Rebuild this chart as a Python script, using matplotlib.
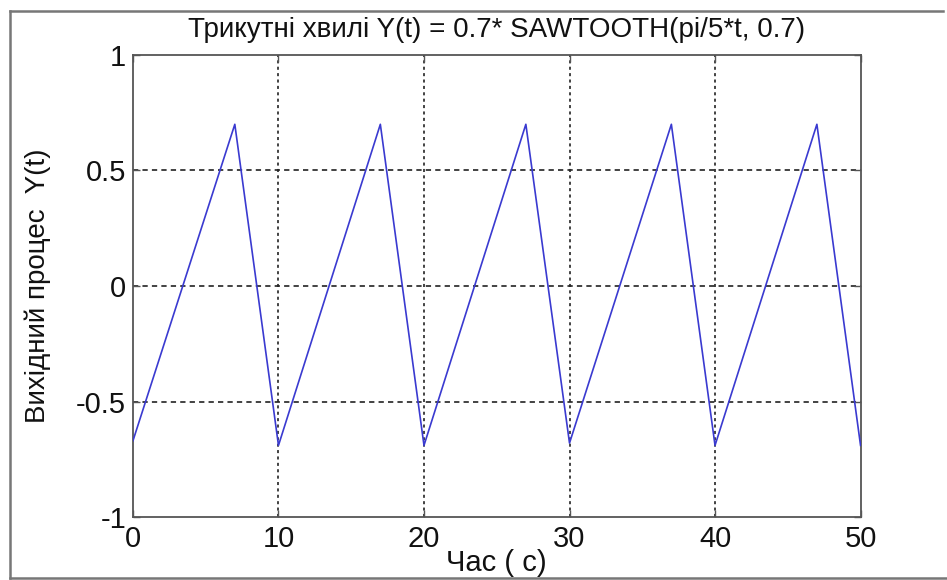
import matplotlib
matplotlib.use("Agg")
import matplotlib.pyplot as plt
from matplotlib.lines import Line2D

# Vertices of the triangular wave 0.7*sawtooth(pi/5*t, 0.7)
t_vals = [0, 7, 10, 17, 20, 27, 30, 37, 40, 47, 50]
y_vals = [-0.67, 0.70, -0.69, 0.70, -0.69, 0.70, -0.68, 0.70, -0.69, 0.70, -0.69]

x_ticks = [0, 10, 20, 30, 40, 50]
y_ticks = [-1, -0.5, 0, 0.5, 1]
y_tick_labels = ["-1", "-0.5", "0", "0.5", "1"]

title_text = "Трикутні хвилі Y(t) = 0.7* SAWTOOTH(pi/5*t, 0.7)"
x_label = "Час ( с)"
y_label = "Вихідний процес  Y(t)"

plt.rcParams["font.family"] = ["Liberation Sans", "DejaVu Sans"]
plt.rcParams["lines.scale_dashes"] = False

fig = plt.figure(figsize=(9.47, 5.8), dpi=100)
ax = fig.add_axes([0.1404, 0.1086, 0.9087 - 0.1404, 0.9052 - 0.1086])

ax.plot(t_vals, y_vals, color="#3a3ad0", linewidth=1.2, zorder=3)

ax.set_xlim(0, 50)
ax.set_ylim(-1, 1)
ax.set_xticks(x_ticks)
ax.set_yticks(y_ticks)
ax.set_yticklabels(y_tick_labels)

# dotted grid: short dashes on vertical lines, longer on horizontal ones
for xv in x_ticks[1:-1]:
    ax.axvline(xv, color="#222222", linewidth=1.2, dashes=(2.2, 2.4), zorder=1)
for yv in y_ticks[1:-1]:
    ax.axhline(yv, color="#222222", linewidth=1.2, dashes=(3.8, 3.0), zorder=1)

for s in ax.spines.values():
    s.set_color("#555555")
    s.set_linewidth(1.3)

ax.tick_params(direction="in", length=5, width=1, colors="#555555",
               top=True, right=True, labelsize=21, labelcolor="#111111")
ax.tick_params(axis="x", pad=6)
ax.tick_params(axis="y", pad=5)

ax.set_title(title_text, fontsize=20, pad=13, color="#111111")
ax.set_xlabel(x_label, fontsize=21, labelpad=-3, color="#111111")
ax.set_ylabel(y_label, fontsize=20, labelpad=18, color="#111111")

# outer window frame
frame_kw = dict(color="#777777", linewidth=1.8, transform=fig.transFigure)
W, H = 947.0, 580.0
fig.add_artist(Line2D([10 / W, 10 / W], [1 - 11 / H, 1 - 578 / H], **frame_kw))
fig.add_artist(Line2D([10 / W, 943 / W], [1 - 11 / H, 1 - 11 / H], **frame_kw))
fig.add_artist(Line2D([10 / W, 1.0], [1 - 578 / H, 1 - 578 / H], **frame_kw))

fig.savefig("out.png", dpi=100)
